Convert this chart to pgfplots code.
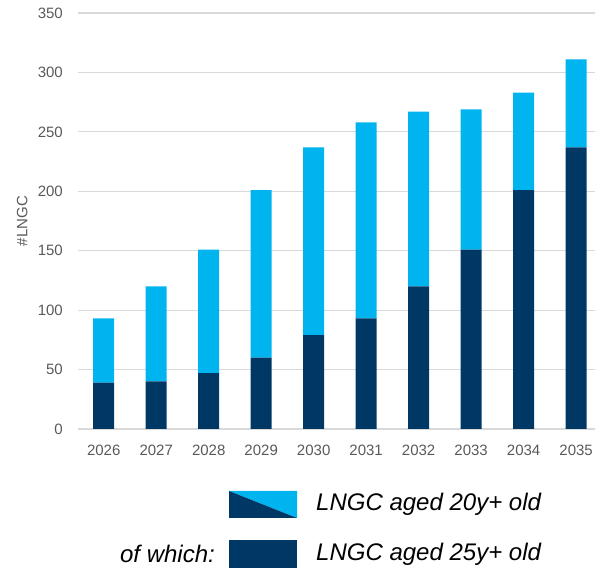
\documentclass[border=0pt]{standalone}
\usepackage{pgfplots}
\usepackage{pgfplotstable}
\pgfplotsset{compat=1.18}
\usepackage{fontspec}
\setmainfont{Liberation Sans}

\definecolor{navy}{HTML}{003865}
\definecolor{sky}{HTML}{00B5EF}
\definecolor{gridgray}{HTML}{D9D9D9}
\definecolor{labelgray}{HTML}{595959}

% idx, year, carriers aged 25y+ (dark), additional carriers aged 20-25y (light)
\pgfplotstableread{
idx year old25 extra20
0 2026 39 54
1 2027 40 80
2 2028 47 104
3 2029 60 141
4 2030 79 158
5 2031 93 165
6 2032 120 147
7 2033 151 118
8 2034 201 82
9 2035 237 74
}\fleet

\begin{document}
\begin{tikzpicture}[x=1pt,y=1pt]
\useasboundingbox (0,0) rectangle (595,568);
\begin{axis}[
  at={(78pt,139pt)}, anchor=south west,
  scale only axis, width=517pt, height=416pt,
  ybar stacked, bar width=21pt,
  xmin=-0.49, xmax=9.36,
  ymin=0, ymax=350,
  ytick={0,50,...,350},
  xtick={0,...,9},
  xticklabels={2026,2027,2028,2029,2030,2031,2032,2033,2034,2035},
  axis line style={draw=none},
  tick style={draw=none},
  ymajorgrids,
  grid style={gridgray, line width=1.2pt},
  /pgf/number format/assume math mode=true,
  ticklabel style={font=\fontsize{15}{18}\selectfont, text=labelgray, inner sep=0pt},
  yticklabel style={anchor=east, xshift=-15pt},
  xticklabel style={anchor=north, yshift=-16pt},
  ylabel={\#LNGC},
  ylabel style={at={(axis description cs:-0.108,0.5)}, anchor=center,
    font=\fontsize{15}{18}\selectfont, text=labelgray},
]
\addplot[fill=navy, draw=none] table[x=idx, y=old25] {\fleet};
\addplot[fill=sky, draw=none] table[x=idx, y=extra20] {\fleet};
\end{axis}

% legend
\fill[sky] (229,77) -- (297,77) -- (297,50) -- cycle;
\fill[navy] (229,77) -- (229,50) -- (297,50) -- cycle;
\fill[navy] (229,0) rectangle (297,28);
\node[anchor=west, inner sep=0pt, font=\fontsize{24}{28}\selectfont\itshape]
  at (316,63.5) {LNGC aged 20y+ old};
\node[anchor=west, inner sep=0pt, font=\fontsize{24}{28}\selectfont\itshape]
  at (316,14) {LNGC aged 25y+ old};
\node[anchor=east, inner sep=0pt, font=\fontsize{24}{28}\selectfont\itshape]
  at (215,14) {of which:};
\end{tikzpicture}
\end{document}
